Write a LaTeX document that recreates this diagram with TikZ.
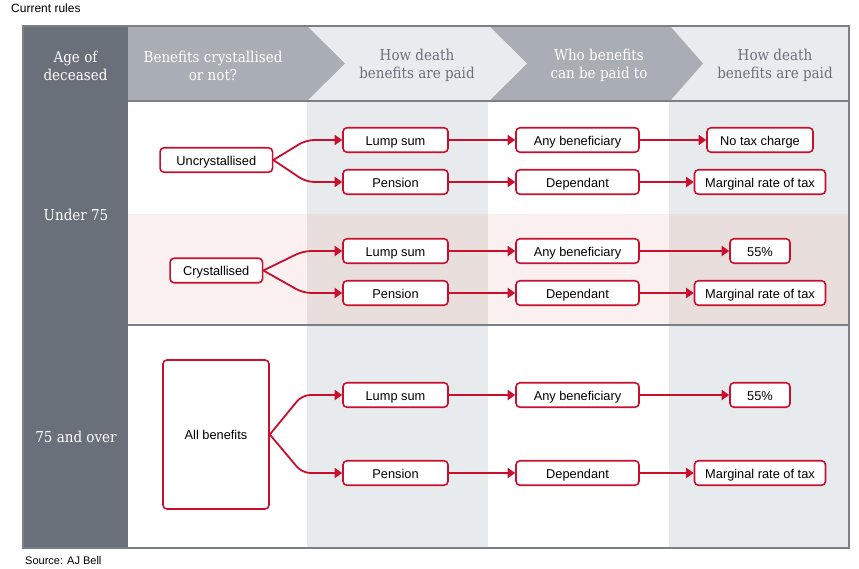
\documentclass[tikz,border=0pt]{standalone}
\usepackage{fontspec}
\setmainfont{Liberation Sans}
\newfontfamily\headfont[FakeStretch=0.9]{DejaVu Serif}
\usetikzlibrary{arrows.meta}
\definecolor{brandred}{HTML}{C8102E}
\definecolor{darkslate}{HTML}{6A7079}
\definecolor{midgray}{HTML}{A9AEB4}
\definecolor{lighthead}{HTML}{E9ECEF}
\definecolor{colshade}{HTML}{E8EBEE}
\definecolor{pinkbg}{HTML}{FBF0F0}
\definecolor{pinkshade}{HTML}{E8DFDD}
\definecolor{framecol}{HTML}{7B8088}
\tikzset{
  box/.style={draw=brandred, line width=1.6pt, rounded corners=4pt, fill=white,
    minimum height=24.5pt, inner sep=0pt, text height=11.7pt, text depth=1.5pt,
    font=\fontsize{12.8}{14}\selectfont, text=black},
  wA/.style={box, minimum width=105pt},
  wB/.style={box, minimum width=123pt},
  conn/.style={draw=brandred, line width=1.8pt, -{Triangle[length=7.5pt,width=10pt]}},
  fork/.style={conn, rounded corners=8pt},
  headw/.style={align=center, text=white, font=\headfont\fontsize{15}{18}\selectfont, inner sep=0pt},
  headg/.style={align=center, text=darkslate, font=\headfont\fontsize{15}{18}\selectfont, inner sep=0pt},
  agelab/.style={text=white, font=\headfont\fontsize{15}{16}\selectfont, inner sep=0pt},
  plain/.style={inner sep=0pt, text=black}
}
\begin{document}
\begin{tikzpicture}[x=1pt,y=-1pt]
\useasboundingbox (0,0) rectangle (859,569);
\fill[white] (0,0) rectangle (859,569);
% body backgrounds
\fill[colshade] (307,101) rectangle (488,548);
\fill[colshade] (669,101) rectangle (849,548);
\fill[pinkbg] (128,214) rectangle (849,325);
\fill[pinkshade] (307,214) rectangle (488,325);
\fill[pinkshade] (669,214) rectangle (849,325);
\draw[framecol, line width=2pt] (128,325) -- (849,325);
% header
\fill[midgray] (128,26) rectangle (307,101);
\fill[lighthead] (307,26) rectangle (489,101);
\fill[midgray] (489,26) rectangle (670,101);
\fill[lighthead] (670,26) rectangle (849,101);
\fill[midgray] (307,26) -- (345,63.5) -- (307,101) -- cycle;
\fill[lighthead] (489,26) -- (527,63.5) -- (489,101) -- cycle;
\fill[midgray] (670,26) -- (703,63.5) -- (670,101) -- cycle;
\draw[framecol, line width=1.5pt] (128,101) -- (849,101);
% left column
\fill[darkslate] (23,26) rectangle (128,548);
\draw[framecol, line width=2pt] (23,26) rectangle (849,548);
% header texts
\node[headw] (h0) at (75.5,65.5) {Age of\\deceased};
\node[headw] (h1) at (213,65.5) {Benefits crystallised\\or not?};
\node[headg] (h2) at (417,65.5) {How death\\benefits are paid};
\node[headw] (h3) at (599,65.5) {Who benefits\\can be paid to};
\node[headg] (h4) at (775,65.5) {How death\\benefits are paid};
\node[agelab] (a1) at (76,215) {Under 75};
\node[agelab] (a2) at (76,437) {75 and over};
% titles
\node[plain, anchor=west, font=\fontsize{12}{14}\selectfont] (title) at (11,8) {Current rules};
\node[plain, anchor=west, font=\fontsize{11}{13}\selectfont] (source) at (25,561) {Source: AJ Bell};
% row 1
\node[box, minimum width=112.5pt] (u) at (216.3,160) {Uncrystallised};
\node[wA] (ls1) at (395.5,140) {Lump sum};
\node[wA] (pe1) at (395.5,182) {Pension};
\node[wB] (ab1) at (577.5,140) {Any beneficiary};
\node[wB] (de1) at (577.5,182) {Dependant};
\node[box, minimum width=106pt] (nt1) at (760,140) {No tax charge};
\node[box, minimum width=131pt] (mr1) at (760,182) {Marginal rate of tax};
% row 2
\node[box, minimum width=92.5pt] (c) at (216.3,270.5) {Crystallised};
\node[wA] (ls2) at (395.5,251) {Lump sum};
\node[wA] (pe2) at (395.5,293) {Pension};
\node[wB] (ab2) at (577.5,251) {Any beneficiary};
\node[wB] (de2) at (577.5,293) {Dependant};
\node[box, minimum width=60pt] (ff2) at (760,251) {55\%};
\node[box, minimum width=131pt] (mr2) at (760,293) {Marginal rate of tax};
% row 3
\node[box, minimum width=106pt, minimum height=149pt] (all) at (216,434.5) {All benefits};
\node[wA] (ls3) at (395.5,395) {Lump sum};
\node[wA] (pe3) at (395.5,473) {Pension};
\node[wB] (ab3) at (577.5,395) {Any beneficiary};
\node[wB] (de3) at (577.5,473) {Dependant};
\node[box, minimum width=60pt] (ff3) at (760,395) {55\%};
\node[box, minimum width=131pt] (mr3) at (760,473) {Marginal rate of tax};
% connectors
\draw[fork] (u.east) -- ([xshift=-36pt]ls1.west) -- (ls1.west);
\draw[fork] (u.east) -- ([xshift=-36pt]pe1.west) -- (pe1.west);
\draw[fork] (c.east) -- ([xshift=-39pt]ls2.west) -- (ls2.west);
\draw[fork] (c.east) -- ([xshift=-39pt]pe2.west) -- (pe2.west);
\draw[fork] (all.east) -- ([xshift=-40pt]ls3.west) -- (ls3.west);
\draw[fork] (all.east) -- ([xshift=-40pt]pe3.west) -- (pe3.west);
\foreach \r in {1,2,3}{
  \draw[conn] (ls\r.east) -- (ab\r.west);
  \draw[conn] (pe\r.east) -- (de\r.west);
  \draw[conn] (de\r.east) -- (mr\r.west);
}
\draw[conn] (ab1.east) -- (nt1.west);
\draw[conn] (ab2.east) -- (ff2.west);
\draw[conn] (ab3.east) -- (ff3.west);
\end{tikzpicture}
\end{document}
